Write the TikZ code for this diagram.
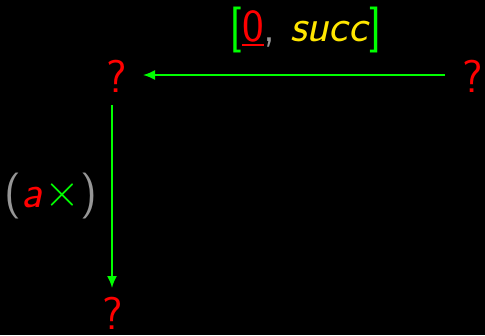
\documentclass[tikz,border=0pt]{standalone}
\usetikzlibrary{arrows.meta}
\definecolor{myred}{RGB}{255,0,0}
\definecolor{mygreen}{RGB}{0,255,0}
\definecolor{myyellow}{RGB}{255,230,0}
\definecolor{mygray}{RGB}{150,150,150}
\newcommand{\myul}[1]{\setbox0\hbox{#1}\rlap{#1}\raisebox{-4pt}{\rule{\wd0}{1.8pt}}}
\tikzset{
  obj/.style={text=myred, font=\sffamily\fontsize{46}{50}\selectfont, inner sep=0pt},
  lbl/.style={font=\sffamily\fontsize{46}{50}\selectfont, inner sep=0pt},
  arr/.style={draw=mygreen, line width=1.8pt, -{Latex[length=12pt,width=10pt]}}
}
\begin{document}
\begin{tikzpicture}[x=1pt,y=-1pt]
\fill[black] (0,0) rectangle (485,335);
\useasboundingbox (0,0) rectangle (485,335);
\node[obj] (tl) at (117,76) {?};
\node[obj] (tr) at (473,76) {?};
\node[obj] (bl) at (113,313) {?};
\coordinate (hs) at (445,75);
\coordinate (he) at (143,75);
\coordinate (vs) at (112,105);
\coordinate (ve) at (112,288);
\draw[arr] (hs) -- (he);
\draw[arr] (vs) -- (ve);
\node[lbl] (top) at (306,30) {\textcolor{mygreen}{[}\textcolor{myred}{\myul{0}}\textcolor{mygray}{,} \textcolor{myyellow}{\textit{succ}}\textcolor{mygreen}{]}};
\node[lbl] (side) at (51,196) {\textcolor{mygray}{(}\textcolor{myred}{\textit{a}}\kern1.5pt\textcolor{mygreen}{\raisebox{1pt}{\scalebox{1.85}{$\times$}}}\textcolor{mygray}{)}};
\end{tikzpicture}
\end{document}
